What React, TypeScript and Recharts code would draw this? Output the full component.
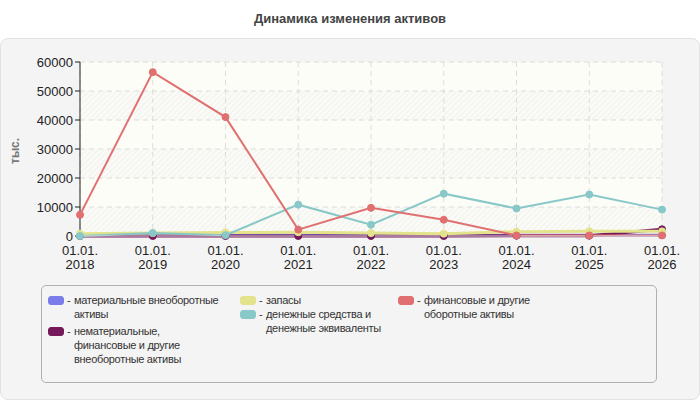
import React from "react";
import { LineChart, Line, XAxis, YAxis, CartesianGrid } from "recharts";

const years = ["2018", "2019", "2020", "2021", "2022", "2023", "2024", "2025", "2026"];
const tangible = [200, 900, 500, 300, 200, 200, 300, 300, 300];
const intangible = [0, 0, 0, 0, 0, 0, 100, 100, 2300];
const stocks = [800, 1000, 1200, 1300, 1000, 800, 1500, 1600, 1600];
const cash = [0, 1000, 300, 10800, 3900, 14600, 9500, 14300, 9100];
const financial = [7300, 56500, 41000, 2200, 9700, 5600, 200, 200, 200];
const yTicks = [0, 10000, 20000, 30000, 40000, 50000, 60000];

const series = [
  { key: "tangible", values: tangible, color: "#7b7bea", label: "материальные внеоборотные\nактивы", width: 3 },
  { key: "intangible", values: intangible, color: "#76195a", label: "нематериальные,\nфинансовые и другие\nвнеоборотные активы", width: 3 },
  { key: "stocks", values: stocks, color: "#e3e38c", label: "запасы", width: 3 },
  { key: "cash", values: cash, color: "#88c8c8", label: "денежные средства и\nденежные эквиваленты", width: 2 },
  { key: "financial", values: financial, color: "#e07070", label: "финансовые и другие\nоборотные активы", width: 2 },
];

const data = years.map((y, i) => {
  const row: Record<string, number | string> = { name: y };
  series.forEach((s) => (row[s.key] = s.values[i]));
  return row;
});

const font = "Arial, 'Liberation Sans', sans-serif";

const XTick = (props: any) => {
  const { x, y, payload } = props;
  return (
    <text x={x} y={y} textAnchor="middle" fill="#222" fontSize={13} fontFamily={font}>
      <tspan x={x} dy={11}>01.01.</tspan>
      <tspan x={x} dy={14}>{payload.value}</tspan>
    </text>
  );
};

const legendCols = [
  { left: 48, gap: 3, items: [0, 1] },
  { left: 240, gap: 0, items: [2, 3] },
  { left: 398, gap: 0, items: [4] },
];

export default function App() {
  return (
    <div style={{ position: "fixed", left: 0, top: 0, width: 700, height: 400, background: "#fff", fontFamily: font }}>
      <div style={{ position: "absolute", top: 11, width: 700, textAlign: "center", fontSize: 13, fontWeight: "bold", color: "#444" }}>
        Динамика изменения активов
      </div>
      <div
        style={{
          position: "absolute", left: 0, top: 38, width: 698, height: 360,
          background: "#f4f4f4", border: "1px solid #e2e2e2", borderRadius: 8,
        }}
      />
      <div
        style={{
          position: "absolute", left: 8, top: 140, width: 24, height: 24, color: "#777",
          fontSize: 12, fontWeight: "bold", transform: "rotate(-90deg)",
        }}
      >
        тыс.
      </div>
      <div style={{ position: "absolute", left: 0, top: 38 }}>
        <LineChart width={700} height={240} data={data} margin={{ top: 24, right: 38, left: 0, bottom: 0 }}>
          <defs>
            <pattern id="hatch" width="4" height="4" patternUnits="userSpaceOnUse" patternTransform="rotate(45)">
              <rect width="4" height="4" fill="#fafaf6" />
              <line x1="0" y1="0" x2="0" y2="4" stroke="#efefec" strokeWidth="1.5" />
            </pattern>
          </defs>
          <CartesianGrid
            stroke="#dcdcdc"
            strokeDasharray="5 4"
            horizontalFill={["#fdfdf7", "url(#hatch)"]}
            syncWithTicks
          />
          <XAxis
            dataKey="name"
            height={42}
            tick={<XTick />}
            tickLine={false}
            axisLine={{ stroke: "#ddd" }}
            interval={0}
          />
          <YAxis
            width={80}
            domain={[0, 60000]}
            ticks={yTicks}
            interval={0}
            tick={{ fill: "#222", fontSize: 13, fontFamily: font }}
            axisLine={{ stroke: "#222" }}
            tickLine={{ stroke: "#222" }}
            tickSize={5}
          />
          {series.map((s) => (
            <Line
              key={s.key}
              type="linear"
              dataKey={s.key}
              stroke={s.color}
              strokeWidth={s.width}
              dot={{ r: 3.5, fill: s.color, stroke: s.color, strokeWidth: 1 }}
              isAnimationActive={false}
            />
          ))}
        </LineChart>
      </div>
      <div
        style={{
          position: "absolute", left: 41, top: 285, width: 614, height: 96,
          border: "1px solid #b0b0b0", borderRadius: 5, background: "#f4f4f4",
        }}
      />
      {legendCols.map((col, ci) => (
        <div key={ci} style={{ position: "absolute", left: col.left, top: 293 }}>
          {col.items.map((idx) => {
            const s = series[idx];
            return (
              <div
                key={s.key}
                style={{
                  display: "flex", alignItems: "flex-start", marginBottom: col.gap,
                  fontSize: 11, letterSpacing: -0.3, lineHeight: "14px", color: "#333",
                }}
              >
                <div
                  style={{
                    width: 14, height: 7, marginTop: 3, background: s.color,
                    border: "1px solid " + s.color, borderRadius: 3, flexShrink: 0,
                  }}
                />
                <div style={{ marginLeft: 3, width: 7, flexShrink: 0 }}>-</div>
                <div style={{ whiteSpace: "pre" }}>{s.label}</div>
              </div>
            );
          })}
        </div>
      ))}
    </div>
  );
}
